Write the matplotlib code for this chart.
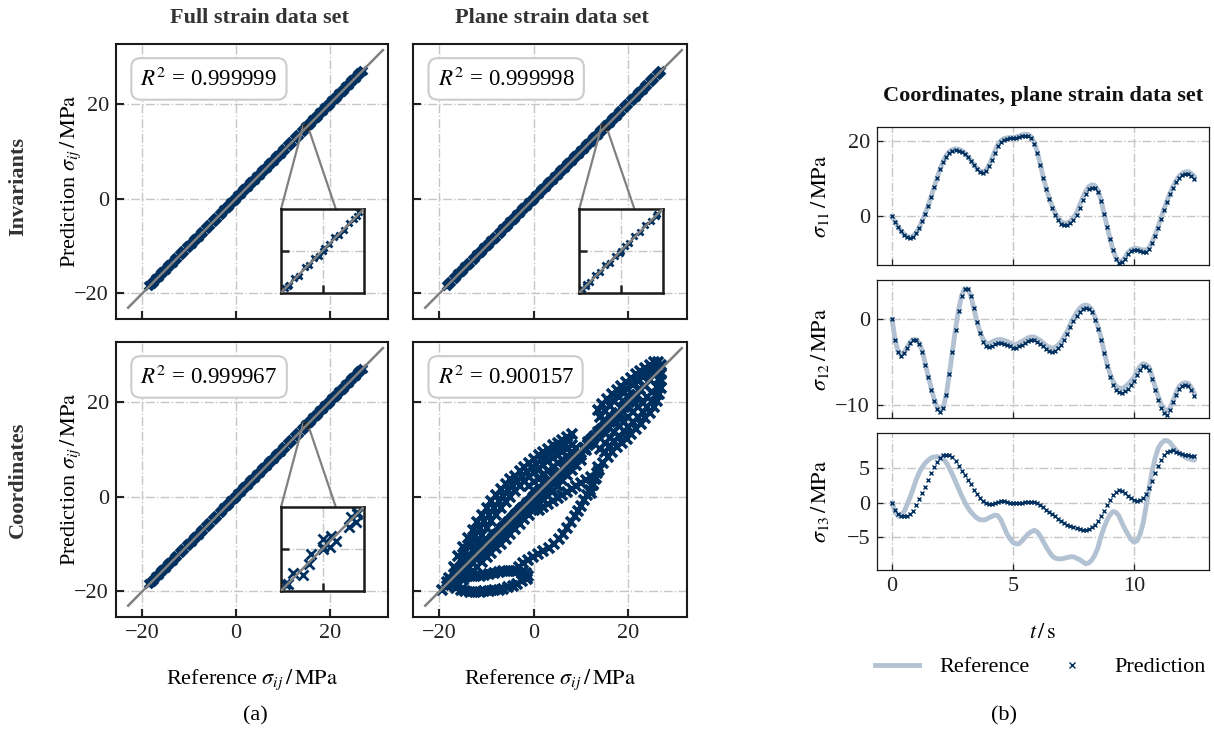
import numpy as np
import matplotlib.pyplot as plt
from matplotlib.lines import Line2D

plt.rcParams['font.family'] = ['Liberation Serif', 'DejaVu Serif']
plt.rcParams['mathtext.fontset'] = 'stix'
plt.rcParams['font.size'] = 16

NAVY = '#00305f'
LIGHT = '#b3c2d2'
GREY = '#808080'
GRID = '#c6c6c6'

# ---- time series, plane strain data set (one row = one second, dt = 0.125 s)
dt = 0.125
s11_ref = [0, -1.4, -2.7, -3.8, -4.7, -5.3, -5.6, -5.2,
           -4.3, -2.9, -1.1, 0.9, 3.0, 5.4, 8.0, 10.5,
           12.8, 14.8, 16.3, 17.3, 17.8, 18.0, 17.9, 17.5,
           16.9, 16.0, 15.0, 13.9, 12.9, 12.1, 11.8, 12.3,
           13.5, 15.3, 17.3, 19.1, 20.2, 20.7, 20.9, 21.0,
           21.0, 21.2, 21.4, 21.7, 21.9, 21.8, 21.2, 19.7,
           17.3, 14.0, 10.5, 7.4, 4.8, 2.6, 0.8, -0.5,
           -1.4, -1.8, -1.7, -1.2, -0.3, 1.0, 2.9, 4.9,
           6.7, 7.9, 8.4, 8.3, 7.1, 4.8, 1.2, -2.3,
           -5.6, -8.7, -10.9, -12.0, -11.8, -10.9, -9.6, -8.8,
           -8.5, -8.5, -8.7, -8.9, -9.0, -8.3, -6.7, -4.8,
           -2.7, -0.3, 2.1, 4.3, 6.4, 8.1, 9.6, 10.8,
           11.5, 11.9, 11.9, 11.4, 10.6]
s11_pred = [0, -1.5, -2.8, -3.9, -4.8, -5.5, -5.8, -5.4,
            -4.5, -3.1, -1.3, 0.7, 2.8, 5.2, 7.8, 10.2,
            12.5, 14.4, 15.9, 16.9, 17.4, 17.6, 17.5, 17.1,
            16.5, 15.7, 14.7, 13.7, 12.7, 11.9, 11.6, 12.1,
            13.3, 15.1, 17.0, 18.8, 19.9, 20.4, 20.7, 20.8,
            20.8, 20.9, 21.1, 21.3, 21.5, 21.4, 20.8, 19.3,
            17.0, 13.8, 10.3, 7.2, 4.6, 2.3, 0.4, -1.0,
            -1.9, -2.3, -2.2, -1.7, -0.8, 0.4, 2.3, 4.3,
            6.0, 7.2, 7.7, 7.6, 6.4, 4.2, 0.6, -2.8,
            -6.0, -9.0, -11.2, -12.3, -12.1, -11.3, -10.0, -9.2,
            -8.9, -9.0, -9.2, -9.4, -9.5, -8.7, -7.1, -5.2,
            -3.1, -0.7, 1.7, 3.9, 5.9, 7.6, 9.1, 10.3,
            11.0, 11.4, 11.4, 10.9, 10.1]
s12_ref = [0, -2.4, -3.8, -4.2, -3.9, -3.3, -2.7, -2.4,
           -2.4, -2.8, -3.7, -5.2, -6.7, -8.1, -9.4, -10.3,
           -10.7, -10.2, -8.7, -6.3, -3.7, -1.2, 1.0, 2.7,
           3.5, 3.5, 2.7, 1.3, -0.2, -1.4, -2.3, -2.8,
           -2.9, -2.7, -2.5, -2.4, -2.4, -2.5, -2.6, -2.8,
           -3.0, -3.0, -2.8, -2.6, -2.4, -2.2, -2.1, -2.1,
           -2.3, -2.5, -2.8, -3.1, -3.3, -3.4, -3.3, -3.0,
           -2.6, -2.0, -1.4, -0.6, 0.1, 0.7, 1.2, 1.5,
           1.6, 1.5, 1.1, 0.3, -0.8, -2.0, -3.6, -5.1,
           -6.3, -7.2, -7.8, -8.0, -8.1, -7.9, -7.6, -7.2,
           -6.8, -6.1, -5.5, -5.2, -5.3, -5.6, -6.7, -7.9,
           -9.0, -9.9, -10.5, -10.7, -10.3, -9.4, -8.5, -7.8,
           -7.5, -7.4, -7.5, -8.0, -8.7]
s12_pred = [0, -2.5, -3.9, -4.3, -4.0, -3.4, -2.8, -2.5,
            -2.5, -2.9, -3.8, -5.3, -6.8, -8.2, -9.5, -10.4,
            -10.8, -10.3, -8.8, -6.4, -3.8, -1.3, 0.9, 2.6,
            3.4, 3.4, 2.6, 1.2, -0.4, -1.7, -2.7, -3.2,
            -3.3, -3.1, -2.9, -2.8, -2.8, -2.9, -3.0, -3.2,
            -3.4, -3.4, -3.2, -3.0, -2.8, -2.6, -2.5, -2.5,
            -2.7, -2.9, -3.2, -3.5, -3.7, -3.8, -3.7, -3.4,
            -3.0, -2.4, -1.8, -1.0, -0.3, 0.3, 0.8, 1.1,
            1.2, 1.1, 0.8, -0.1, -1.2, -2.4, -4.0, -5.5,
            -6.8, -7.7, -8.3, -8.5, -8.6, -8.4, -8.1, -7.7,
            -7.2, -6.5, -5.9, -5.5, -5.6, -5.9, -7.0, -8.2,
            -9.4, -10.3, -10.9, -11.1, -10.6, -9.7, -8.8, -8.1,
            -7.8, -7.7, -7.8, -8.3, -9.0]
s13_ref = [0, -1.3, -1.95, -1.8, -1.3, -0.3, 0.8, 2.0,
           3.3, 4.3, 5.1, 5.7, 6.1, 6.45, 6.55, 6.6,
           6.5, 6.3, 5.7, 4.9, 4.0, 3.0, 2.0, 1.0,
           0.1, -0.7, -1.3, -1.8, -2.2, -2.45, -2.5, -2.45,
           -2.2, -2.0, -1.8, -1.9, -2.5, -3.5, -4.5, -5.2,
           -5.75, -5.95, -5.9, -5.5, -5.0, -4.5, -4.2, -4.0,
           -4.2, -4.8, -5.6, -6.4, -7.1, -7.7, -8.0, -8.1,
           -8.1, -8.0, -7.9, -7.8, -7.8, -8.0, -8.2, -8.5,
           -8.8, -8.7, -8.3, -7.6, -6.6, -5.0, -3.7, -2.6,
           -1.8, -1.3, -1.4, -1.9, -2.9, -3.8, -4.6, -5.3,
           -5.7, -5.5, -4.6, -3.0, -0.6, 2.1, 4.5, 6.4,
           7.8, 8.5, 8.9, 8.9, 8.6, 8.0, 7.5, 7.1,
           6.8, 6.5, 6.3, 6.2, 6.1]
s13_pred = [0, -1.1, -1.7, -1.95, -2.0, -1.95, -1.7, -1.2,
            -0.4, 0.5, 1.4, 2.3, 3.3, 4.3, 5.1, 5.8,
            6.4, 6.8, 6.9, 6.8, 6.6, 6.0, 5.3, 4.6,
            4.0, 3.3, 2.6, 1.8, 1.2, 0.7, 0.2, -0.1,
            -0.2, -0.2, -0.1, 0.1, 0.2, 0.2, 0.1, 0.0,
            -0.05, -0.1, -0.05, 0.0, 0.1, 0.1, 0.1, 0.05,
            -0.1, -0.4, -0.7, -1.1, -1.4, -1.7, -2.0, -2.3,
            -2.65, -2.9, -3.2, -3.4, -3.55, -3.7, -3.85, -3.9,
            -3.9, -3.8, -3.5, -3.2, -2.6, -2.0, -1.2, -0.4,
            0.4, 1.1, 1.5, 1.8, 1.7, 1.4, 1.0, 0.7,
            0.4, 0.2, 0.3, 0.7, 1.3, 2.1, 3.1, 4.2,
            5.2, 6.1, 6.9, 7.3, 7.45, 7.5, 7.3, 7.1,
            7.0, 6.9, 6.8, 6.7, 6.7]

# ---- parity data: near-perfect models (predictions coincide with reference at this scale)
band_ref = [-18.5, -18, -17.5, -17, -16.5, -16, -15.5, -15, -14.5, -14, -13.5, -13,
            -12.5, -12, -11.5, -11, -10.5, -10, -9.5, -9, -8.5, -8, -7.5, -7, -6.5,
            -6, -5.5, -5, -4.5, -4, -3.5, -3, -2.5, -2, -1.5, -1, -0.5, 0, 0.5, 1,
            1.5, 2, 2.5, 3, 3.5, 4, 4.5, 5, 5.5, 6, 6.5, 7, 7.5, 8, 8.5, 9, 9.5, 10,
            10.5, 11, 11.5, 12, 12.5, 13, 13.5, 14, 14.5, 15, 15.5, 16, 16.5, 17,
            17.5, 18, 18.5, 19, 19.5, 20, 20.5, 21, 21.5, 22, 22.5, 23, 23.5, 24,
            24.5, 25, 25.5, 26, 26.5, 27]
band_pred = band_ref

# zoomed detail around sigma = 15 MPa
zoom_inv_full_ref = [14.45, 14.52, 14.59, 14.66, 14.74, 14.81, 14.88, 14.95,
                     15.02, 15.10, 15.17, 15.24, 15.31, 15.38, 15.46, 15.53]
zoom_inv_full_pred = [14.47, 14.51, 14.61, 14.64, 14.76, 14.80, 14.90, 14.93,
                      15.04, 15.09, 15.19, 15.22, 15.30, 15.40, 15.45, 15.55]
zoom_inv_plane_ref = [14.44, 14.50, 14.56, 14.63, 14.70, 14.77, 14.84, 14.91,
                      14.98, 15.05, 15.12, 15.19, 15.27, 15.35, 15.43, 15.51]
zoom_inv_plane_pred = [14.45, 14.52, 14.55, 14.65, 14.69, 14.79, 14.83, 14.93,
                       14.97, 15.07, 15.11, 15.21, 15.26, 15.37, 15.42, 15.52]
zoom_coord_full_ref = [14.46, 14.57, 14.71, 14.80, 14.83, 15.00, 15.00,
                       15.11, 15.12, 15.19, 15.38, 15.41, 15.49, 15.50]
zoom_coord_full_pred = [14.50, 14.65, 14.63, 14.78, 14.92, 15.02, 15.14,
                        15.03, 15.18, 15.11, 15.31, 15.46, 15.38, 15.53]

# coordinates, plane strain: remaining stress components (traced loops)
lobe_outer_ref = [-18, -17, -16, -15, -14, -13, -12, -11, -10, -9, -8, -7, -6, -5,
                  -4, -3, -2, -1, 0, 1, 2, 3, 4, 5, 6, 7, 8]
lobe_outer_pred = [-17.2, -14.9, -12.6, -10.6, -8.7, -7.0, -5.3, -3.8, -2.4, -1.0,
                   0.4, 1.7, 2.7, 3.6, 4.4, 5.3, 6.2, 7.1, 7.9, 8.7, 9.4, 10.1, 10.8,
                   11.4, 12.0, 12.6, 13.1]
lobe_mid_ref = [-16.5, -15.5, -14.5, -13.5, -12.5, -11.5, -10.5, -9.5, -8.5, -7.5,
                -6.5, -5.5, -4.5, -3.5, -2.5, -1.5, -0.5, 0.5, 1.5, 2.5, 3.5, 4.5,
                5.5, 6.5, 7.5]
lobe_mid_pred = [-15.3, -13.4, -11.6, -9.9, -8.3, -6.7, -5.2, -3.8, -2.4, -1.0,
                 0.2, 1.3, 2.3, 3.2, 4.2, 5.2, 6.1, 6.9, 7.7, 8.4, 9.1, 9.8,
                 10.4, 11.0, 11.7]
lobe_inner_ref = [-17, -16, -15, -14, -13, -12, -11, -10, -9, -8, -7, -6, -5, -4,
                  -3, -2, -1, 0, 1, 2, 3, 4, 5, 6, 7, 8]
lobe_inner_pred = [-17.3, -16.0, -14.4, -12.8, -11.2, -9.6, -8.0, -6.6, -5.2, -3.8,
                   -2.5, -1.2, 0.0, 1.1, 2.2, 3.2, 4.2, 5.1, 5.9, 6.7, 7.4, 8.1, 8.8,
                   9.4, 10.0, 10.8]
lobe_core_ref = [-1, 0, 1, 2, 3, 4, 5, 6, 7, 8, 9]
lobe_core_pred = [2.2, 3.0, 3.8, 4.6, 5.4, 6.2, 7.0, 7.8, 8.6, 9.4, 10.2]
foot_top_ref = [-17.5, -16.5, -15.5, -14.5, -13.5, -12.5, -11.5, -10.5, -9.5, -8.5,
                -7.5, -6.5, -5.5, -4.5, -3.5, -2.5, -1.7, -1.2]
foot_top_pred = [-17.5, -17.2, -17.0, -16.9, -16.8, -16.8, -16.7, -16.6, -16.4, -16.2,
                 -16.0, -15.8, -15.6, -15.6, -15.7, -15.9, -16.2, -16.8]
foot_bot_ref = [-1.5, -2.5, -3.5, -4.5, -5.5, -6.5, -7.5, -8.5, -9.5, -10.5, -11.5,
                -12.5, -13.5, -14.5, -15.5, -16.5, -17.5, -18.5]
foot_bot_pred = [-17.3, -17.9, -18.4, -18.8, -19.1, -19.4, -19.6, -19.8, -19.9, -20.0,
                 -20.1, -20.1, -20.1, -20.0, -19.7, -19.3, -18.7, -18.1]
diag_ref = [-19.5, -18.5, -17.5, -16.5, -15.5, -14.5, -13.5, -12.5, -11.5, -10.5, -9.5,
            -8.5, -7.5, -6.5, -5.5, -4.5, -3.5, -2.5, -1.5, -0.5, 0.5, 1.5, 2.5, 3.5,
            4.5, 5.5, 6.5, 7.5, 8.5, 9.5, 10.5, 11.5, 12.5, 13.5, 14.5, 15.5, 16.5,
            17.5, 18.5, 19.5, 20.5, 21.5, 22.5, 23.5, 24.5, 25.5, 26.5]
diag_pred = [-19.8, -18.9, -17.9, -16.6, -15.8, -14.9, -13.4, -12.9, -11.7, -10.9, -9.7,
             -8.8, -7.9, -6.6, -5.8, -4.9, -3.6, -2.8, -1.7, -0.9, 0.3, 1.1, 2.3, 3.2,
             4.6, 5.2, 6.4, 7.3, 8.7, 9.2, 10.3, 11.6, 12.2, 13.6, 14.2, 15.7, 16.3,
             17.4, 18.7, 19.2, 20.6, 21.3, 22.7, 23.4, 24.6, 25.7, 26.9]
under_ref = [-17, -16, -15, -14, -13, -12, -11, -10, -9, -8, -7, -6, -5, -4, -3, -2,
             -1, 0, 1, 2, 3, 4, 5, 6, 7, 8, 9, 10, 11]
under_pred = [-18.0, -17.2, -16.1, -15.2, -14.1, -13.2, -12.0, -11.2, -10.1, -9.2,
              -8.1, -7.2, -6.0, -5.1, -4.2, -3.0, -2.1, -1.2, -0.1, 0.8, 1.9, 2.8,
              3.9, 4.8, 5.9, 6.8, 7.9, 8.8, 9.9]
under2_ref = [-16, -15, -14, -13, -12, -11, -10, -9, -8, -7, -6, -5, -4, -3, -2, -1,
              0, 1, 2, 3, 4, 5, 6, 7, 8, 9, 10]
under2_pred = [-18.3, -17.5, -16.6, -15.7, -14.8, -13.8, -12.8, -11.8, -10.9, -9.9,
               -8.9, -7.9, -6.9, -5.8, -4.8, -3.8, -2.8, -1.8, -0.8, 0.2, 1.2, 2.3,
               3.4, 4.5, 5.6, 6.7, 7.8]
knee_ref = [1, 2, 3, 4, 5, 6, 7, 8, 9, 10, 11, 12]
knee_pred = [-2.8, -2.2, -1.6, -1.0, -0.3, 0.4, 1.0, 1.6, 2.2, 2.8, 3.4, 4.2]
arc_ref = [13.6, 13.3, 12.9, 12.4, 11.8, 11.2, 10.6, 10.0, 9.3, 8.6, 7.9, 7.1, 6.2,
           5.2, 4.2, 3.1, 2.0, 0.9, -0.2, -1.3, -2.3, -3.1]
arc_pred = [6.2, 5.0, 3.8, 2.6, 1.4, 0.3, -0.8, -1.9, -3.0, -4.2, -5.4, -6.6, -7.8,
            -8.9, -9.9, -10.8, -11.5, -12.1, -12.7, -13.3, -14.0, -14.9]
upper_out_ref = [13.5, 14.5, 15.5, 16.5, 17.5, 18.5, 19.5, 20.5, 21.5, 22.5, 23.5,
                 24.5, 25.5, 26.3, 26.8]
upper_out_pred = [18.3, 19.6, 20.6, 21.6, 22.5, 23.4, 24.2, 25.0, 25.8, 26.5, 27.2,
                  27.8, 28.3, 28.4, 27.8]
upper_in_ref = [14, 15, 16, 17, 18, 19, 20, 21, 22, 23, 24, 25, 26]
upper_in_pred = [16.8, 18.0, 19.1, 20.1, 21.0, 21.9, 22.7, 23.5, 24.4, 25.2, 26.0,
                 26.8, 27.4]
right_out_ref = [12.0, 12.6, 13.2, 13.8, 14.6, 15.6, 16.6, 17.6, 18.6, 19.6, 20.6,
                 21.6, 22.6, 23.6, 24.6, 25.4, 26.0, 26.5, 26.8, 27.0, 26.8]
right_out_pred = [0.8, 2.5, 4.0, 5.5, 7.0, 8.3, 9.4, 10.4, 11.3, 12.2, 13.2, 14.3,
                  15.4, 16.5, 17.6, 18.8, 20.2, 21.6, 23.0, 24.5, 25.8]
right_mid_ref = [15, 16, 17, 18, 19, 20, 21, 22, 23, 24, 25, 26]
right_mid_pred = [9.4, 10.6, 11.7, 12.8, 13.8, 14.7, 15.7, 16.8, 17.8, 18.9, 20.1, 21.7]
right_in_ref = [14, 15, 16, 17, 18, 19, 20, 21, 22, 23, 24, 25, 26, 26.5]
right_in_pred = [10.0, 11.2, 12.4, 13.6, 14.8, 15.8, 16.8, 17.8, 18.8, 19.8, 20.9,
                 22.0, 23.2, 24.8]

r2_values = [[0.999999, 0.999998], [0.999967, 0.900157]]
col_titles = ['Full strain data set', 'Plane strain data set']
row_titles = ['Invariants', 'Coordinates']

plane_coord_ref = np.concatenate([s11_ref, s12_ref, lobe_outer_ref, lobe_mid_ref,
                                  lobe_inner_ref, lobe_core_ref, foot_top_ref,
                                  foot_bot_ref, diag_ref, under_ref, under2_ref,
                                  knee_ref, arc_ref, upper_out_ref, upper_in_ref,
                                  right_out_ref, right_mid_ref, right_in_ref])
plane_coord_pred = np.concatenate([s11_pred, s12_pred, lobe_outer_pred, lobe_mid_pred,
                                   lobe_inner_pred, lobe_core_pred, foot_top_pred,
                                   foot_bot_pred, diag_pred, under_pred, under2_pred,
                                   knee_pred, arc_pred, upper_out_pred, upper_in_pred,
                                   right_out_pred, right_mid_pred, right_in_pred])

parity = {
    (0, 0): (band_ref, band_pred, zoom_inv_full_ref, zoom_inv_full_pred),
    (0, 1): (band_ref, band_pred, zoom_inv_plane_ref, zoom_inv_plane_pred),
    (1, 0): (band_ref, band_pred, zoom_coord_full_ref, zoom_coord_full_pred),
    (1, 1): (plane_coord_ref, plane_coord_pred, None, None),
}

FW, FH = 1214, 733
fig = plt.figure(figsize=(FW / 100, FH / 100), dpi=100)


def px_axes(x0, y0, x1, y1):
    return fig.add_axes([x0 / FW, 1 - y1 / FH, (x1 - x0) / FW, (y1 - y0) / FH])


def style(ax, lw, ticklen):
    ax.grid(True, ls='-.', color=GRID, lw=1.0)
    ax.set_axisbelow(True)
    ax.tick_params(direction='in', length=ticklen, width=lw, colors='#222',
                   labelsize=16, top=False, right=False, pad=5)
    for sp in ax.spines.values():
        sp.set_linewidth(lw)
        sp.set_color('#1a1a1a')


lo = min(plane_coord_ref.min(), plane_coord_pred.min())
hi = max(plane_coord_ref.max(), plane_coord_pred.max())
pad = 0.06 * (hi - lo)
ident = [lo - pad, hi + pad]

boxes = {(0, 0): (116, 44, 388, 319), (0, 1): (413, 44, 687, 319),
         (1, 0): (116, 342, 388, 617), (1, 1): (413, 342, 687, 617)}
title_x = [0.527, 0.507]

for (r, c), (ref, pred, zr, zp) in parity.items():
    ax = px_axes(*boxes[(r, c)])
    style(ax, 1.5, 6)
    if zr is not None:
        ax.plot(ref, pred, ls='none', marker='x', color=NAVY, ms=6.2, mew=2.8)
    else:
        ax.plot(ref, pred, ls='none', marker='x', color=NAVY, ms=7, mew=2.6)
    ax.plot(ident, ident, color=GREY, lw=1.8, zorder=5)
    ax.set_xlim(-25.6, 32.4)
    ax.set_ylim(-25.4, 32.6)
    ax.set_xticks([-20, 0, 20])
    ax.set_yticks([-20, 0, 20])
    if c == 1:
        ax.set_yticklabels([])
    else:
        ax.set_ylabel(r'Prediction $\sigma_{ij}\,/\,\mathrm{MPa}$', fontsize=16)
        ax.yaxis.set_label_coords(-0.122, 0.5)
    if r == 0:
        ax.set_xticklabels([])
        ax.set_title(col_titles[c], fontsize=16, fontweight='bold', color='#333',
                     pad=15, x=title_x[c])
    else:
        ax.set_xlabel(r'Reference $\sigma_{ij}\,/\,\mathrm{MPa}$', fontsize=16,
                      labelpad=18)
    ax.text(0.09, 0.873, r'$R^2$ = %.6f' % r2_values[r][c], transform=ax.transAxes,
            fontsize=16.5, va='center', ha='left', zorder=10,
            bbox=dict(boxstyle='round,pad=0.4', fc='white', ec='#cccccc', lw=1.5))

    if zr is not None:
        axins = ax.inset_axes([0.607, 0.096, 0.305, 0.305])
        zms = 4 if r == 0 else 7
        axins.plot(ref, pred, ls='none', marker='x', color=NAVY, ms=zms, mew=2.0)
        axins.plot(zr, zp, ls='none', marker='x', color=NAVY, ms=zms, mew=2.0)
        axins.plot(ident, ident, color=GREY, lw=1.8, zorder=5)
        axins.set_xlim(14.4, 15.6)
        axins.set_ylim(14.4, 15.6)
        axins.set_xticks([15])
        axins.set_yticks([15])
        axins.set_xticklabels([])
        axins.set_yticklabels([])
        style(axins, 1.8, 6)
        ind = ax.indicate_inset_zoom(axins, edgecolor='#222', alpha=1, lw=1.2)
        for con in ind.connectors:
            con.set_edgecolor(GREY)
            con.set_linewidth(1.6)

    if c == 0:
        fig.text(18 / FW, 1 - (187 if r == 0 else 480) / FH, row_titles[r],
                 rotation=90, ha='center', va='center', fontsize=16,
                 fontweight='bold', color='#333')

# ---- right column: time series
t = np.arange(len(s11_ref)) * dt
series = [(s11_ref, s11_pred, r'$\sigma_{11}\,/\,\mathrm{MPa}$', (-12.9, 23.8), [0, 20]),
          (s12_ref, s12_pred, r'$\sigma_{12}\,/\,\mathrm{MPa}$', (-11.5, 4.5), [-10, 0]),
          (s13_ref, s13_pred, r'$\sigma_{13}\,/\,\mathrm{MPa}$', (-9.7, 10.0), [-5, 0, 5])]
rows = [(127, 265), (280, 418), (433, 570)]

for i, (ref, pred, lab, ylim, yt) in enumerate(series):
    ax = px_axes(877, rows[i][0], 1209, rows[i][1])
    style(ax, 0.9, 4)
    ax.plot(t, ref, color=LIGHT, lw=3.5, solid_capstyle='round')
    ax.plot(t, pred, ls='none', marker='x', color=NAVY, ms=2.4, mew=1.0)
    ax.set_xlim(-0.62, 13.1)
    ax.set_ylim(*ylim)
    ax.set_yticks(yt)
    ax.set_xticks([0, 5, 10])
    ax.set_ylabel(lab, fontsize=16)
    if i == 0:
        ax.set_title('Coordinates, plane strain data set', fontsize=16,
                     fontweight='bold', color='#111', pad=19)
    if i < 2:
        ax.set_xticklabels([])
    else:
        ax.set_xlabel(r'$t\,/\,\mathrm{s}$', fontsize=16, labelpad=20)
    ax.yaxis.set_label_coords(-0.14, 0.5)

handles = [Line2D([], [], color=LIGHT, lw=3.5),
           Line2D([], [], ls='none', marker='x', color=NAVY, ms=5, mew=1.0)]
fig.legend(handles, ['Reference', 'Prediction'], loc='center',
           bbox_to_anchor=(1040 / FW, 1 - 667 / FH), ncol=2, frameon=False,
           fontsize=16, handlelength=2.0, handletextpad=0.9, columnspacing=0.9)

fig.text(255 / FW, 1 - 716 / FH, '(a)', ha='center', va='center', fontsize=16)
fig.text(1004 / FW, 1 - 716 / FH, '(b)', ha='center', va='center', fontsize=16)

fig.savefig('out.png', dpi=100)
